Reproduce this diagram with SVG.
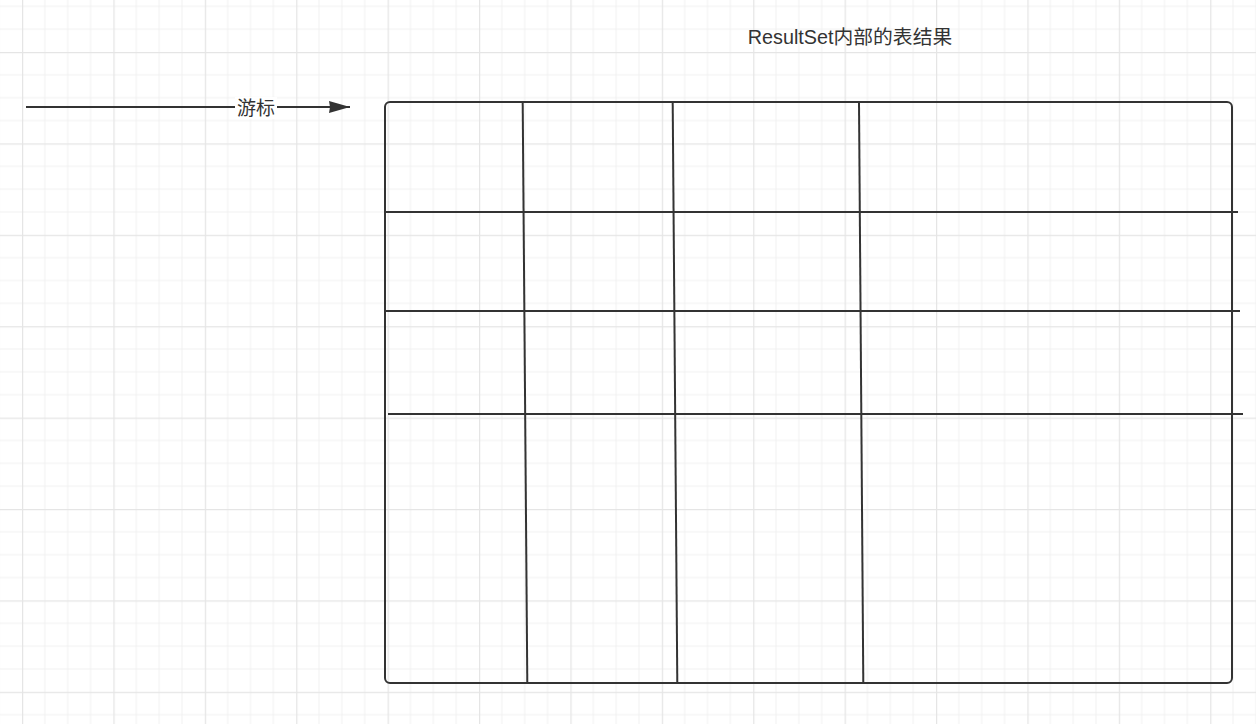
<svg xmlns="http://www.w3.org/2000/svg" width="1256" height="724" viewBox="0 0 1256 724">
<defs>
<pattern id="grid" patternUnits="userSpaceOnUse" x="22" y="52" width="91.4" height="91.4">
<path d="M22.85 0V91.4M45.7 0V91.4M68.55 0V91.4M0 22.85H91.4M0 45.7H91.4M0 68.55H91.4" stroke="#f1f1f1" stroke-width="1" fill="none"/>
<path d="M0.5 0V91.4M0 0.5H91.4" stroke="#e5e5e5" stroke-width="1.5" fill="none"/>
</pattern>
<marker id="arrow" markerUnits="userSpaceOnUse" markerWidth="22" markerHeight="14" refX="21" refY="7" orient="auto">
<path d="M0 1L21 7L0 13L1 7Z" fill="#333333"/>
</marker>
</defs>
<style>
.ln{stroke:#333333;stroke-width:2;fill:none}
.tx{font-family:"Liberation Sans","Noto Sans CJK SC",sans-serif;fill:#333333;font-size:19px}
.tt{font-size:19.8px}
</style>
<rect width="1256" height="724" fill="#ffffff"/>
<rect width="1256" height="724" fill="url(#grid)"/>
<g id="title">
<text class="tx tt" x="850" y="44" text-anchor="middle">ResultSet内部的表结果</text>
</g>
<g id="table">
<rect class="ln" x="385" y="102" width="847" height="581" rx="5" ry="5"/>
</g>
<g id="connectors">
<line class="ln" x1="26" y1="107" x2="350" y2="107" marker-end="url(#arrow)"/>
<line class="ln" x1="384" y1="212" x2="1238" y2="212"/>
<line class="ln" x1="385" y1="311" x2="1240" y2="311"/>
<line class="ln" x1="388" y1="414" x2="1243" y2="414"/>
<line class="ln" x1="522.7" y1="103" x2="527.3" y2="682"/>
<line class="ln" x1="672.7" y1="103" x2="677.3" y2="682"/>
<line class="ln" x1="859" y1="103" x2="863.3" y2="682"/>
</g>
<g id="cursor-label">
<rect x="235" y="97" width="42" height="22" fill="#ffffff"/>
<text class="tx" x="256" y="115" text-anchor="middle" font-size="19.5">游标</text>
</g>
</svg>
